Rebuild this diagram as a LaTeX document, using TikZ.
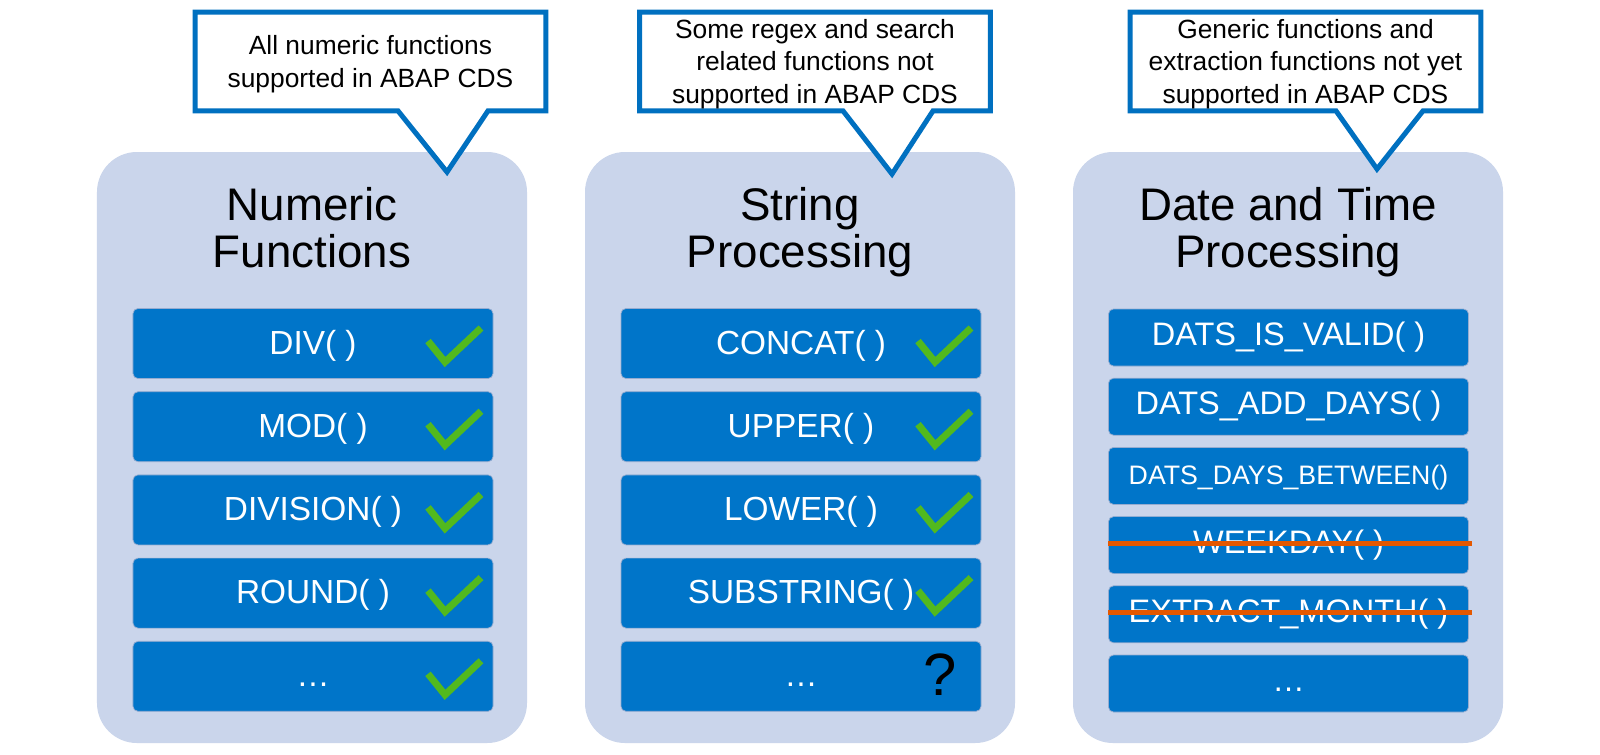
\documentclass[tikz,border=0pt]{standalone}
\usepackage{fontspec}
\setmainfont{Liberation Sans}
\usetikzlibrary{calc}
\pgfdeclarelayer{front}
\pgfsetlayers{main,front}

\begin{document}
\begin{tikzpicture}[x=0.2mm,y=-0.2mm,
    panel/.style={fill=panelcolor, rounded corners=8mm, minimum width=86mm, minimum height=118.2mm, inner sep=0pt},
    paneltitle/.style={align=center, inner sep=0pt, font=\fontsize{26}{27.3}\selectfont},
    fnbox/.style={fill=boxcolor, draw=boxedge, line width=0.4pt, rounded corners=1mm, minimum width=72mm, minimum height=14mm, inner sep=0pt, text=white, font=\fontsize{19}{22}\selectfont, text height=4.8mm, text depth=0.6mm},
    datebox/.style={fnbox, minimum height=11.4mm, font=\fontsize{18.5}{22}\selectfont, text height=4.6mm, text depth=1.3mm},
    okmark/.style={draw=tickcolor, line width=1.4mm},
    strikeout/.style={draw=strikecolor, line width=1mm},
    calloutbox/.style={minimum width=70mm, minimum height=19.6mm, inner sep=0pt, align=center, font=\fontsize{15}{18.5}\selectfont},
    calloutline/.style={draw=calloutcolor, fill=white, line width=1mm}]
            \definecolor{panelcolor}{RGB}{202,213,235}
            \definecolor{boxcolor}{RGB}{0,117,201}
            \definecolor{boxedge}{RGB}{150,172,208}
            \definecolor{tickcolor}{RGB}{82,185,30}
            \definecolor{strikecolor}{RGB}{228,88,0}
            \definecolor{calloutcolor}{RGB}{0,112,192}

            \fill[white] (0,0) rectangle (1600,754);
            \useasboundingbox (0,0) rectangle (1600,754);

            % Numeric functions
            \node[panel] (pnum) at (312,447.5) {};
            \node[paneltitle] (tnum) at (312,234.4) {\strut Numeric\\\strut Functions};
            \foreach \fn [count=\i from 0] in {DIV( ), MOD( ), DIVISION( ), ROUND( ), …}
                \node[fnbox] (num\i) at (313,{343.5+83.2*\i}) {\fn};
            \foreach \i in {0,...,4}
                \draw[okmark] (num\i.center) ++(115,-2.5) -- ++(17,21) -- ++(36,-34);

            % String processing
            \node[panel] (pstr) at (800,447.5) {};
            \node[paneltitle] (tstr) at (800,234.4) {\strut String\\\strut Processing};
            \foreach \fn [count=\i from 0] in {CONCAT( ), UPPER( ), LOWER( ), SUBSTRING( ), …}
                \node[fnbox] (str\i) at (801,{343.5+83.2*\i}) {\fn};
            \foreach \i in {0,...,3}
                \draw[okmark] (str\i.center) ++(117,-2.5) -- ++(17,21) -- ++(36,-34);
            \node[font=\fontsize{34}{36}\selectfont, inner sep=0pt] (qmark) at (940.5,675) {?};

            % Date and time processing
            \node[panel] (pdat) at (1288,447.5) {};
            \node[paneltitle] (tdat) at (1288,234.4) {\strut Date and Time\\\strut Processing};
            \foreach \fn [count=\i from 0] in {DATS\_IS\_VALID( ), DATS\_ADD\_DAYS( ), {\fontsize{15.2}{18}\selectfont DATS\_DAYS\_BETWEEN()}, WEEKDAY( ), EXTRACT\_MONTH( ), …}
                \node[datebox] (dat\i) at (1288.5,{337.5+69.2*\i}) {\fn};
            \draw[strikeout] ($(dat3.west)+(0,-1.5)$) -- ($(dat3.east)+(3,-1.5)$);
            \draw[strikeout] ($(dat4.west)+(0,-1.5)$) -- ($(dat4.east)+(3,-1.5)$);

            % Callouts
            \begin{pgfonlayer}{front}
            \node[calloutbox] (cnum) at (370.5,61.5) {\rule{0pt}{16.4pt}All numeric functions\\\strut supported in ABAP CDS};
            \node[calloutbox] (cstr) at (815,61.5) {\rule{0pt}{14.65pt}Some regex and search\\\strut related functions not\\\rule[-3.85pt]{0pt}{12pt}supported in ABAP CDS};
            \node[calloutbox] (cdat) at (1305.5,61.5) {\rule{0pt}{14.65pt}Generic functions and\\\strut extraction functions not yet\\\rule[-3.85pt]{0pt}{12pt}supported in ABAP CDS};
            \end{pgfonlayer}
            \coordinate (tipnum) at (447,172);
            \coordinate (tipstr) at (892,174);
            \coordinate (tipdat) at (1377,169);
            \filldraw[calloutline] (cnum.north west) -- (cnum.north east) -- (cnum.south east) -- ($(cnum.south -| tipnum)+(41,0)$) -- (tipnum) -- ($(cnum.south -| tipnum)+(-49,0)$) -- (cnum.south west) -- cycle;
            \filldraw[calloutline] (cstr.north west) -- (cstr.north east) -- (cstr.south east) -- ($(cstr.south -| tipstr)+(41,0)$) -- (tipstr) -- ($(cstr.south -| tipstr)+(-49,0)$) -- (cstr.south west) -- cycle;
            \filldraw[calloutline] (cdat.north west) -- (cdat.north east) -- (cdat.south east) -- ($(cdat.south -| tipdat)+(46,0)$) -- (tipdat) -- ($(cdat.south -| tipdat)+(-41,0)$) -- (cdat.south west) -- cycle;
\end{tikzpicture}
\end{document}
